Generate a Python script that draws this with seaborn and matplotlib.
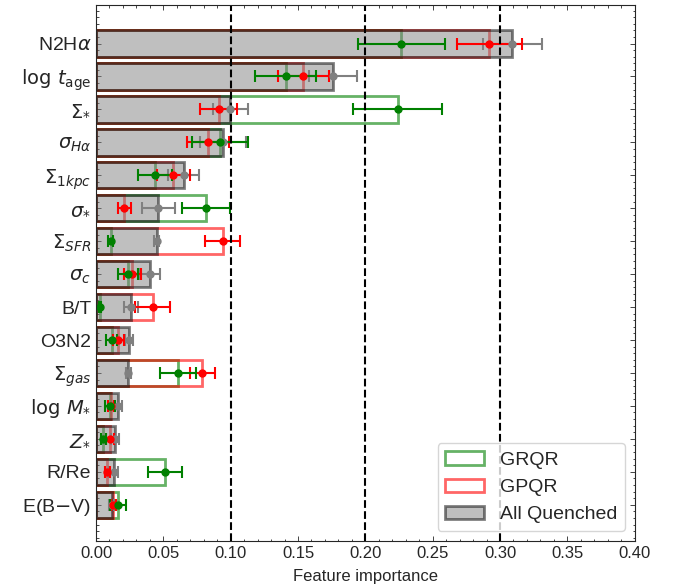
import numpy as np
import matplotlib
matplotlib.use("Agg")
import matplotlib.pyplot as plt
import seaborn as sns
from matplotlib.ticker import AutoMinorLocator

features = ["N2H$\\alpha$", "$\\log\\,t_{\\rm age}$", "$\\Sigma_{*}$", "$\\sigma_{H\\alpha}$",
            "$\\Sigma_{1kpc}$", "$\\sigma_{*}$", "$\\Sigma_{SFR}$", "$\\sigma_{c}$", "B/T", "O3N2",
            "$\\Sigma_{gas}$", "$\\log\\,M_{*}$", "$Z_{*}$", "R/Re", "E(B$-$V)"]

# All Quenched
all_q = [0.309, 0.176, 0.0996, 0.094, 0.065, 0.0463, 0.045, 0.040, 0.026, 0.0245,
         0.024, 0.016, 0.0144, 0.013, 0.0117]
all_q_err = [0.022, 0.0175, 0.013, 0.017, 0.0116, 0.012, 0.002, 0.0075, 0.005, 0.003,
             0.002, 0.003, 0.003, 0.003, 0.002]

# GPQR
gpqr = [0.292, 0.154, 0.091, 0.0835, 0.0575, 0.0211, 0.0942, 0.027, 0.042, 0.0166,
        0.079, 0.0112, 0.0104, 0.0084, 0.0129]
gpqr_err = [0.024, 0.019, 0.014, 0.0156, 0.0124, 0.0047, 0.013, 0.0065, 0.0129, 0.004,
            0.0095, 0.002, 0.003, 0.002, 0.002]

# GRQR
grqr = [0.2268, 0.141, 0.224, 0.0922, 0.0439, 0.0815, 0.0109, 0.024, 0.003, 0.0117,
        0.0607, 0.0104, 0.0054, 0.0513, 0.0166]
grqr_err = [0.032, 0.0227, 0.033, 0.021, 0.0127, 0.0177, 0.002, 0.0074, 0.001, 0.004,
            0.0133, 0.004, 0.002, 0.0127, 0.006]

sns.set_style("ticks")
plt.rcParams["font.family"] = ["Liberation Sans", "DejaVu Sans"]
plt.rcParams["mathtext.fontset"] = "dejavusans"

fig, ax = plt.subplots(figsize=(6.81, 5.87), dpi=100)
fig.subplots_adjust(left=0.141, right=0.932, bottom=0.0784, top=0.9915)

# outlines first, the grey bars go on top of them
sns.barplot(x=grqr, y=features, orient="h", fill=False, color="green", saturation=1,
            alpha=0.6, linewidth=2, width=0.8, errorbar=None, ax=ax)
sns.barplot(x=gpqr, y=features, orient="h", fill=False, color="red", saturation=1,
            alpha=0.6, linewidth=2, width=0.8, errorbar=None, ax=ax)
sns.barplot(x=all_q, y=features, orient="h", color="gray", saturation=1, alpha=0.5,
            edgecolor="k", linewidth=2, width=0.8, errorbar=None, ax=ax)

pos = np.arange(len(features))
ekw = dict(fmt="o", markersize=5, capsize=4, elinewidth=1.5, capthick=1.5, linestyle="none")
ax.errorbar(all_q, pos, xerr=all_q_err, color="gray", **ekw)
ax.errorbar(gpqr, pos, xerr=gpqr_err, color="red", **ekw)
ax.errorbar(grqr, pos, xerr=grqr_err, color="green", **ekw)

for xv in [0.1, 0.2, 0.3]:
    ax.axvline(xv, color="k", ls="--", lw=1.5)

ax.set_xlim(0, 0.4)
ax.set_ylim(15.1, -1.17)
ax.set_xticks(np.arange(0, 0.41, 0.05))
ax.xaxis.set_minor_locator(AutoMinorLocator())
ax.yaxis.set_minor_locator(AutoMinorLocator())
ax.tick_params(which="both", direction="in", top=True, right=True, width=0.6)
ax.tick_params(which="major", length=3.5)
ax.tick_params(which="minor", length=1.8)
ax.tick_params(axis="x", labelsize=12)
ax.tick_params(axis="y", labelsize=14)
for s in ax.spines.values():
    s.set_linewidth(0.8)
ax.set_xlabel("Feature importance", fontsize=12, labelpad=6)
ax.set_ylabel("")

c = ax.containers
ax.legend(handles=[c[0], c[1], c[2]], labels=["GRQR", "GPQR", "All Quenched"],
          loc="lower right", fontsize=14, handlelength=2.0)

fig.savefig("out.png", dpi=100)
